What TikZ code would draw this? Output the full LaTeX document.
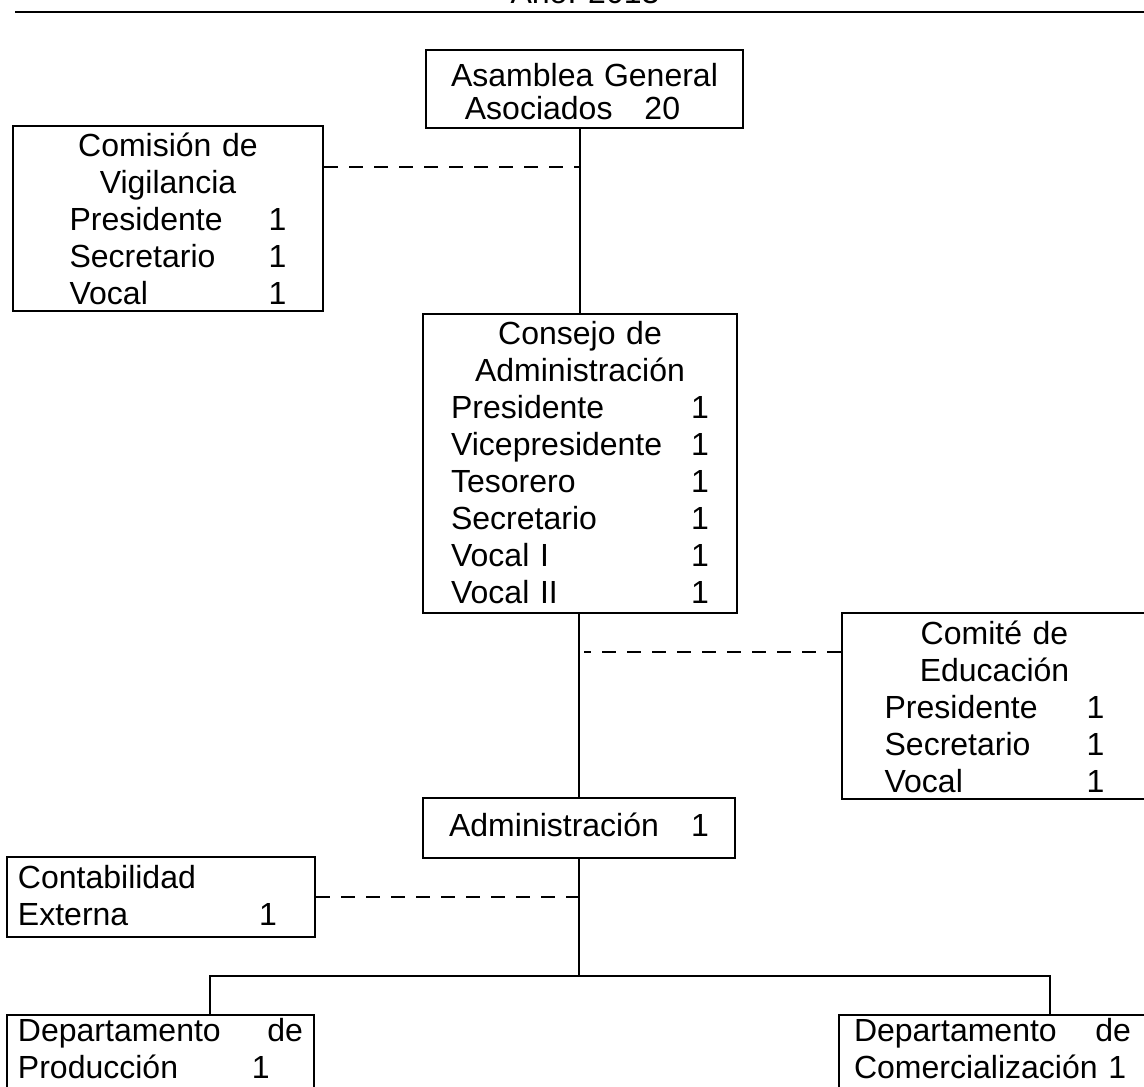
\documentclass[tikz,border=0pt]{standalone}
\usepackage{fontspec}
\setmainfont{Liberation Sans}
\usepackage{tikz}
\tikzset{orgbox/.style={rectangle,draw,line width=1.2pt,inner sep=0pt,anchor=north,align=center,font=\fontsize{16}{18.5}\selectfont},
         leftbox/.style={orgbox,align=left,inner xsep=5.5pt},
         link/.style={line width=1pt},
         dashlink/.style={line width=1pt,dash pattern=on 7pt off 5.5pt}}
\newcommand{\fila}[3]{\makebox[#1][l]{#2}#3}

\begin{document}
\begin{tikzpicture}[x=0.5pt,y=-0.5pt]
  \useasboundingbox (0,0) rectangle (1144,1086);
  % heading, cut off by the page edge
  \node (anio) [anchor=base,inner sep=0pt,font=\fontsize{16}{18.5}\selectfont] at (585,4) {Año: 2013};
  \draw[line width=1.4pt] (15,12) -- (1150,12);

  \node (asamblea) [orgbox,text width=158.5pt,text height=18pt,text depth=21pt,font=\fontsize{16}{16.5}\selectfont] at (584.5,49) {Asamblea General\\Asociados\hspace{16pt}20\hspace{12pt}\mbox{}};
  \node (vigilancia) [orgbox,text width=155pt,text height=15pt,text depth=77.5pt] at (168,125) {Comisión de\\Vigilancia\\\hspace*{10pt}\fila{99.5pt}{Presidente}{1}\\\hspace*{10pt}\fila{99.5pt}{Secretario}{1}\\\hspace*{10pt}\fila{99.5pt}{Vocal}{1}};
  \node (consejo) [orgbox,text width=157pt,text height=15pt,text depth=134.5pt] at (580,313) {Consejo de\\Administración\\\fila{120pt}{Presidente}{1}\\\fila{120pt}{Vicepresidente}{1}\\\fila{120pt}{Tesorero}{1}\\\fila{120pt}{Secretario}{1}\\\fila{120pt}{Vocal I}{1}\\\fila{120pt}{Vocal II}{1}};
  \node (educacion) [orgbox,text width=152.5pt,text height=15.5pt,text depth=77.5pt] at (994.5,612) {Comité de\\Educación\\\fila{101pt}{Presidente}{1}\\\fila{101pt}{Secretario}{1}\\\fila{101pt}{Vocal}{1}};
  \node (admin) [orgbox,text width=156pt,text height=19pt,text depth=11pt] at (579,797) {\fila{121pt}{Administración}{1}};
  \node (contab) [leftbox,text width=143pt,text height=15.5pt,text depth=24.5pt] at (161,856) {Contabilidad\\\fila{120.5pt}{Externa}{1}};
  % departments run past the bottom edge
  \node (produccion) [leftbox,text width=142.5pt,text height=13pt,text depth=28pt] at (160.5,1014) {Departamento\hfill de\\\fila{117pt}{Producción}{1}};
  \node (comercial) [leftbox,inner xsep=7.5pt,text width=138.5pt,text height=13pt,text depth=28pt] at (992.5,1014) {Departamento\hfill de\\Comercialización 1};

  % main line of authority
  \draw[link] (consejo.north) -- (consejo.north |- asamblea.south);
  \draw[link] (admin.north) -- (admin.north |- consejo.south);
  \coordinate (ramal) at ([yshift=-58.5pt]admin.south);
  \draw[link] (admin.south) -- (ramal);
  \draw[link] ([xshift=24.75pt]produccion.north) |- (ramal) -| ([xshift=28.75pt]comercial.north);

  % dashed staff links
  \draw[dashlink] ([yshift=-21pt]vigilancia.north east) -- ([yshift=-21pt]vigilancia.north east -| consejo.north);
  \draw[dashlink] ([yshift=-20pt]educacion.north west) -- ([yshift=-20pt,xshift=2.5pt]educacion.north west -| admin.north);
  \draw[dashlink] ([yshift=-20.5pt]contab.north east) -- ([yshift=-20.5pt]contab.north east -| admin.south);
\end{tikzpicture}
\end{document}
